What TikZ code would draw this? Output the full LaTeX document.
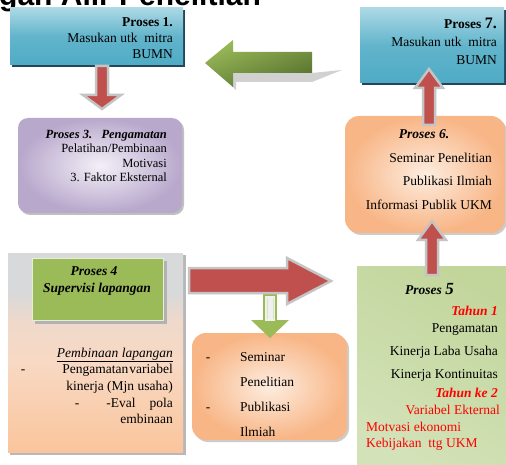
\documentclass[tikz,border=0pt]{standalone}
\usepackage{fontspec}
\setmainfont{Liberation Serif}
\newfontfamily\titlefont{Liberation Sans}
\definecolor{blueT}{HTML}{ACD9E5}
\definecolor{blueB}{HTML}{4FABC5}
\definecolor{blueSh}{HTML}{22465A}
\definecolor{purIn}{HTML}{F3EFF7}
\definecolor{purOut}{HTML}{B8A8CC}
\definecolor{pchIn}{HTML}{FDEDE0}
\definecolor{pchOut}{HTML}{F8B585}
\definecolor{grnBox}{HTML}{9BBB59}
\definecolor{grnLt}{HTML}{EFF4E4}
\definecolor{grnDk}{HTML}{C2D69C}
\definecolor{grnBt}{HTML}{D3E2B8}
\definecolor{arRed}{HTML}{C0504D}
\definecolor{arGray}{HTML}{C4C4C4}
\definecolor{grnA}{HTML}{9BBB59}
\definecolor{grnB}{HTML}{56702E}
\definecolor{txtRed}{HTML}{FF0000}
\definecolor{pGray}{HTML}{D8D9DA}
\definecolor{pPeachA}{HTML}{FAC59C}
\definecolor{pPeachB}{HTML}{F8D9C4}
\pgfdeclareverticalshading{p4shade}{100bp}{color(0bp)=(pPeachA); color(25bp)=(pPeachA); color(48bp)=(pPeachB); color(58bp)=(pPeachB!70!pGray); color(65bp)=(pGray); color(100bp)=(pGray)}
\tikzset{
  t/.style={inner sep=0pt, font=\fontsize{13.5}{15}\selectfont},
  ts/.style={inner sep=0pt, font=\fontsize{12.5}{14}\selectfont},
  tbi/.style={t, font=\fontsize{13.5}{15}\selectfont\bfseries\itshape},
  boxbase/.style={inner sep=0pt, outer sep=0pt},
  bluebox/.style={boxbase, top color=blueT, bottom color=blueB, middle color=blueB!80!blueT},
  redarrow/.style={fill=arRed, draw=arGray, line width=2.5pt, line join=miter},
}
\begin{document}
\begin{tikzpicture}[x=1pt,y=-1pt]
\useasboundingbox (0,0) rectangle (506,465);
\fill[white] (0,0) rectangle (506,465);

% title (cut off at top, as in the reference)
\node[anchor=base west, inner sep=0pt, font=\titlefont\bfseries\fontsize{30}{30}\selectfont] (title) at (-1,6) {gan Alir Penelitian};

% ---------- boxes ----------
% Proses 1
\fill[blueSh] (12,10) rectangle (185,67);
\node[bluebox, minimum width=173pt, minimum height=57pt] (p1) at (96.5,36.5) {};
% Proses 7
\fill[blueSh] (362,10) rectangle (506,85);
\node[bluebox, minimum width=144pt, minimum height=75pt] (p7) at (432,45.5) {};
% Proses 3
\fill[black!25, rounded corners=10pt] (20,120) rectangle (184,215);
\node[boxbase, rounded corners=10pt, inner color=purIn, outer color=purOut, minimum width=164pt, minimum height=95pt] (p3) at (100,165.5) {};
% Proses 6
\fill[black!20, rounded corners=14pt] (347,118) rectangle (507,235);
\node[boxbase, rounded corners=14pt, inner color=pchIn, outer color=pchOut, minimum width=160pt, minimum height=117pt] (p6) at (425,174.5) {};
% Proses 4 outer
\fill[black!28] (10,255) rectangle (186,455);
\node[boxbase, shading=p4shade, minimum width=175pt, minimum height=199pt] (p4) at (95.5,352.5) {};
% Proses 4 inner green
\fill[black!30] (35,261) rectangle (167,324);
\node[boxbase, fill=grnBox, draw=white!75!grnBox, line width=1pt, minimum width=131pt, minimum height=62pt] (p4in) at (97.5,289) {};
% Seminar box
\fill[black!20, rounded corners=14pt] (194,335) rectangle (349,442);
\node[boxbase, rounded corners=14pt, inner color=pchIn, outer color=pchOut, minimum width=155pt, minimum height=107pt] (sem) at (269.5,386.5) {};
% Proses 5
\shade[top color=grnDk, middle color=grnLt, bottom color=grnBt, shading angle=-30] (357,266) rectangle (506,465);
\node[boxbase, minimum width=149pt, minimum height=199pt] (p5) at (431.5,365.5) {};

% ---------- arrows ----------
% green left arrow (shadow then body)
\fill[black!18] (212,68) -- (236,90) -- (236,82) -- (312,82) -- (342,70) -- (312,73) -- (236,73) -- cycle;
\shade[top color=grnA, bottom color=grnB, shading angle=20]
  (205,63) -- (233,40) -- (233,52) -- (312,52) -- (312,73) -- (233,73) -- (233,87) -- cycle;

% red down arrow p1 -> p3
\draw[redarrow] (96,66) -- (108,66) -- (108,95) -- (121,95) -- (102,109) -- (83,95) -- (96,95) -- cycle;

% green down arrow below red right arrow
\fill[grnBox] (251,320) -- (289,320) -- (270,338) -- cycle;
\draw[grnBox, fill=black!6, line width=1.5pt] (264,295) rectangle (276,322);
\draw[white!60!grnBox, line width=1pt] (267,298) -- (267,319) (273,298) -- (273,319);

% red right arrow p4 -> p5
\draw[redarrow] (189,268) -- (287,268) -- (287,258) -- (331,281) -- (287,304) -- (287,293) -- (189,293) -- cycle;

% red up arrow p5 -> p6
\draw[redarrow] (426,275) -- (426,240) -- (418,240) -- (432,221) -- (446,240) -- (438,240) -- (438,275) -- cycle;

% red up arrow p6 -> p7
\draw[redarrow] (423,125) -- (423,88) -- (415,88) -- (429,69) -- (443,88) -- (435,88) -- (435,125) -- cycle;

% ---------- texts ----------
% Proses 1
\node[t, anchor=base east, font=\fontsize{13.5}{15}\selectfont\bfseries] (p1a) at (173,27) {Proses 1.};
\node[t, anchor=base east] (p1b) at (173,43) {Masukan utk\ \ mitra};
\node[t, anchor=base east] (p1c) at (173,59) {BUMN};
% Proses 7
\node[t, anchor=base east, font=\fontsize{13.5}{15}\selectfont\bfseries] (p7a) at (497,29) {Proses {\fontsize{16}{16}\selectfont 7.}};
\node[t, anchor=base east] (p7b) at (497,47) {Masukan utk\ \ mitra};
\node[t, anchor=base east] (p7c) at (497,65) {BUMN};
% Proses 3
\node[ts, anchor=base east, font=\fontsize{12.5}{14}\selectfont\bfseries\itshape] (p3a) at (167,139) {Proses 3.\ \ \ Pengamatan};
\node[ts, anchor=base east] (p3b) at (167,153) {Pelatihan/Pembinaan};
\node[ts, anchor=base east] (p3c) at (167,168) {Motivasi};
\node[ts, anchor=base east] (p3d) at (167,182) {3. Faktor Eksternal};
% Proses 6
\node[tbi, anchor=base] (p6a) at (424,139) {Proses 6.};
\node[t, anchor=base east] (p6b) at (492,163) {Seminar Penelitian};
\node[t, anchor=base east] (p6c) at (492,186) {Publikasi Ilmiah};
\node[t, anchor=base east] (p6d) at (492,210) {Informasi Publik UKM};
% Proses 4
\node[tbi, anchor=base] (p4a) at (94,276) {Proses 4};
\node[tbi, anchor=base] (p4b) at (97,292) {Supervisi lapangan};
\node[t, anchor=base east, font=\fontsize{13.5}{15}\selectfont\itshape] (p4c) at (173,357) {\underline{Pembinaan lapangan}};
\node[t, anchor=base] (p4d1) at (23,373) {-};
\node[t, anchor=base east] (p4d) at (173,373) {Pengamatan\hspace{1pt}variabel};
\node[t, anchor=base east] (p4e) at (173,390) {kinerja (Mjn usaha)};
\node[t, anchor=base] (p4f1) at (77,407) {-};
\node[t, anchor=base east] (p4f) at (173,407) {-Eval\hspace{14pt}pola};
\node[t, anchor=base east] (p4g) at (173,423) {embinaan};
% Seminar box
\node[t, anchor=base] (s1d) at (208,361) {-};
\node[t, anchor=base west] (s1) at (240,361) {Seminar};
\node[t, anchor=base west] (s2) at (240,386) {Penelitian};
\node[t, anchor=base] (s3d) at (208,411) {-};
\node[t, anchor=base west] (s3) at (240,411) {Publikasi};
\node[t, anchor=base west] (s4) at (240,436) {Ilmiah};
% Proses 5
\node[tbi, anchor=base west] (p5a) at (405,294) {Proses {\fontsize{17}{17}\selectfont 5}};
\node[tbi, anchor=base east, text=txtRed] (p5b) at (498,315) {Tahun 1};
\node[t, anchor=base east] (p5c) at (498,332) {Pengamatan};
\node[t, anchor=base east] (p5d) at (498,355) {Kinerja Laba Usaha};
\node[t, anchor=base east] (p5e) at (498,378) {Kinerja Kontinuitas};
\node[tbi, anchor=base east, text=txtRed] (p5f) at (498,397) {Tahun ke 2};
\node[t, anchor=base east, text=txtRed] (p5g) at (500,414) {Variabel Ekternal};
\node[t, anchor=base west, text=txtRed] (p5h) at (366,431) {Motvasi ekonomi};
\node[t, anchor=base west, text=txtRed] (p5i) at (366,447) {Kebijakan\ \ ttg UKM};
\end{tikzpicture}
\end{document}
